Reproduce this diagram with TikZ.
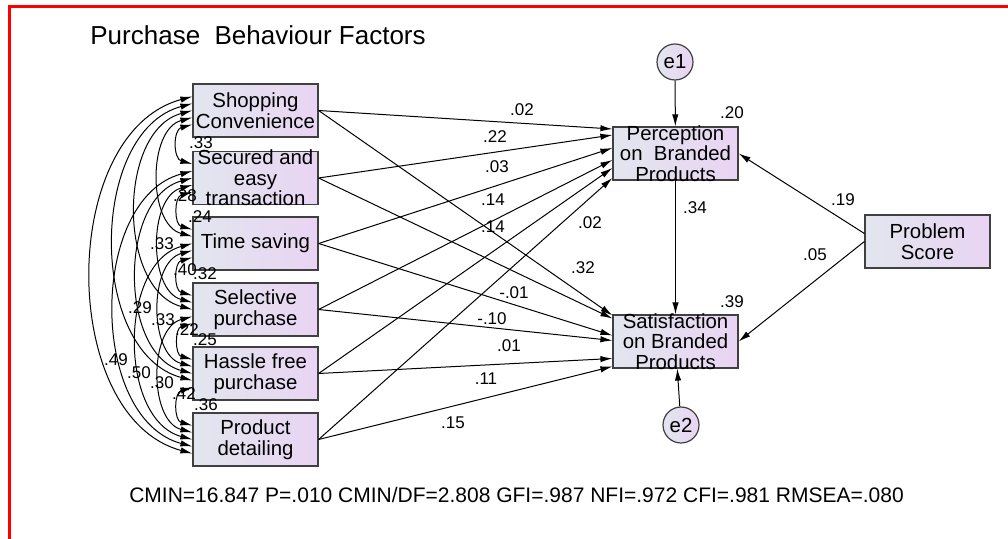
\documentclass[tikz,border=0pt]{standalone}
\usepackage{fontspec}
\setmainfont{Liberation Sans}
\usetikzlibrary{arrows.meta,calc}
\definecolor{boxl}{RGB}{226,230,238}
\definecolor{boxr}{RGB}{233,212,243}
\definecolor{boxline}{RGB}{64,64,64}
\definecolor{frame}{RGB}{255,0,0}
\tikzset{
  varbox/.style={rectangle,draw=boxline,line width=0.6pt,left color=boxl,right color=boxr,
    minimum width=62.5pt,minimum height=26.5pt,inner sep=0pt},
  vartext/.style={align=center,inner sep=0pt,font=\fontsize{10.2}{10.3}\selectfont},
  errc/.style={circle,draw=boxline,line width=0.6pt,left color=boxl,right color=boxr,
    minimum size=18pt,inner sep=0pt,font=\fontsize{10.2}{10.3}\selectfont},
  reg/.style={->,line width=0.5pt},
  cov/.style={<->,line width=0.5pt},
  est/.style={inner sep=0pt,font=\fontsize{8.5}{8.5}\selectfont}
}
\begin{document}
\begin{tikzpicture}[x=0.5pt,y=-0.5pt,>={Latex[length=6pt,width=3.2pt]}]
\useasboundingbox (0,0) rectangle (1008,539);
\fill[white] (0,0) rectangle (1008,539);
\draw[frame,line width=1.5pt] (9,539) -- (9,7) -- (1008,7);

\node[anchor=west,inner sep=0pt,font=\fontsize{13}{13}\selectfont] (title) at (90,35) {Purchase\ \ Behaviour Factors};

% exogenous
\node[varbox,label={[vartext]center:Shopping\\Convenience}] (shop) at (255.5,110.5) {};
\node[varbox,label={[vartext]center:Secured and\\easy\\transaction}] (secu) at (255.5,178) {};
\node[varbox,label={[vartext]center:Time saving}] (time) at (255.5,243.5) {};
\node[varbox,label={[vartext]center:Selective\\purchase}] (sele) at (255.5,309.5) {};
\node[varbox,label={[vartext]center:Hassle free\\purchase}] (hass) at (255.5,373.5) {};
\node[varbox,label={[vartext]center:Product\\detailing}] (prod) at (255.5,439.5) {};

% endogenous
\node[varbox,label={[vartext]center:Perception\\on\ \ Branded\\Products}] (perc) at (675.5,153.5) {};
\node[varbox,label={[vartext]center:Satisfaction\\on Branded\\Products}] (sati) at (675.5,341.5) {};
\node[varbox,label={[vartext]center:Problem\\Score}] (prob) at (927.5,241.5) {};
\node[errc] (e1) at (675,62) {e1};
\node[errc] (e2) at (681,425) {e2};

% paths to perception
\draw[reg] (shop.east) -- ($(perc.west)+(0,-24.5)$);
\draw[reg] (secu.east) -- ($(perc.west)+(0,-18.5)$);
\draw[reg] (time.east) -- ($(perc.west)+(0,-5.5)$);
\draw[reg] (sele.east) -- ($(perc.west)+(0,6.5)$);
\draw[reg] (hass.east) -- ($(perc.west)+(0,14.5)$);
\draw[reg] (prod.east) -- ($(perc.west)+(0,24.5)$);
% paths to satisfaction
\draw[reg] (shop.east) -- ($(sati.north west)+(0,1)$);
\draw[reg] (secu.east) -- ($(sati.west)+(0,-23)$);
\draw[reg] (time.east) -- ($(sati.west)+(0,-6)$);
\draw[reg] (sele.east) -- ($(sati.west)+(0,-1)$);
\draw[reg] (hass.east) -- ($(sati.west)+(0,17)$);
\draw[reg] (prod.east) -- ($(sati.west)+(0,25)$);

\draw[reg] ($(prob.west)+(0,-8)$) -- (perc.east);
\draw[reg] (prob.west) -- (sati.east);
\draw[reg] (perc) -- (sati);
\draw[reg] (e1) -- (perc);
\draw[reg] (e2) -- (sati);

% covariances
\draw[cov] ($(shop.west)+(0,14)$) to[bend right=75,looseness=1.3] ($(secu.west)+(0,-14)$);
\draw[cov] ($(shop.west)+(0,7)$) to[bend right=75] ($(time.west)+(0,-7)$);
\draw[cov] (shop.west) to[bend right=75] (sele.west);
\draw[cov] ($(shop.west)+(0,-7)$) to[bend right=75] ($(hass.west)+(0,7)$);
\draw[cov] ($(shop.west)+(0,-14)$) to[bend right=75] ($(prod.west)+(0,14)$);
\draw[cov] ($(secu.west)+(0,14)$) to[bend right=75,looseness=1.3] ($(time.west)+(0,-14)$);
\draw[cov] ($(secu.west)+(0,7)$) to[bend right=75] ($(sele.west)+(0,-7)$);
\draw[cov] (secu.west) to[bend right=75] (hass.west);
\draw[cov] ($(secu.west)+(0,-7)$) to[bend right=75] ($(prod.west)+(0,7)$);
\draw[cov] ($(time.west)+(0,14)$) to[bend right=75,looseness=1.3] ($(sele.west)+(0,-14)$);
\draw[cov] ($(time.west)+(0,7)$) to[bend right=75] ($(hass.west)+(0,-7)$);
\draw[cov] (time.west) to[bend right=75] (prod.west);
\draw[cov] ($(sele.west)+(0,14)$) to[bend right=75,looseness=1.3] ($(hass.west)+(0,-14)$);
\draw[cov] ($(sele.west)+(0,7)$) to[bend right=75] ($(prod.west)+(0,-7)$);
\draw[cov] ($(hass.west)+(0,14)$) to[bend right=75,looseness=1.3] ($(prod.west)+(0,-14)$);

% estimates
\node[est] (c12) at (201,143) {.33};
\node[est] (c13) at (185,196) {.28};
\node[est] (c23) at (200,217) {.24};
\node[est] (c14) at (162,244) {.33};
\node[est] (c24) at (185,270) {.40};
\node[est] (c34) at (205,274) {.32};
\node[est] (c15) at (140,308) {.29};
\node[est] (c25) at (163,320) {.33};
\node[est] (c35) at (187,330) {.22};
\node[est] (c45) at (205,340) {.25};
\node[est] (c16) at (116,360) {.49};
\node[est] (c26) at (139,373) {.50};
\node[est] (c36) at (162,383) {.30};
\node[est] (c46) at (184,394) {.42};
\node[est] (c56) at (206,405) {.36};

\node[est] (w1) at (522,110) {.02};
\node[est] (w2) at (495,137) {.22};
\node[est] (w3) at (497,167) {.03};
\node[est] (w4) at (493,200) {.14};
\node[est] (w5) at (493,227) {.14};
\node[est] (w6) at (590,223) {.02};
\node[est] (s1) at (583,268) {.32};
\node[est] (s2) at (514,293) {-.01};
\node[est] (s3) at (492,319) {-.10};
\node[est] (s4) at (509,346) {.01};
\node[est] (s5) at (486,379) {.11};
\node[est] (s6) at (453,423) {.15};

\node[est] (r1) at (732,113) {.20};
\node[est] (r2) at (732,302) {.39};
\node[est] (p1) at (695,208) {.34};
\node[est] (p2) at (843,200) {.19};
\node[est] (p3) at (815,255) {.05};

\node[inner sep=0pt,font=\fontsize{10.5}{10.5}\selectfont] (fit) at (516.5,495)
  {CMIN=16.847 P=.010 CMIN/DF=2.808 GFI=.987 NFI=.972 CFI=.981 RMSEA=.080};
\end{tikzpicture}
\end{document}
